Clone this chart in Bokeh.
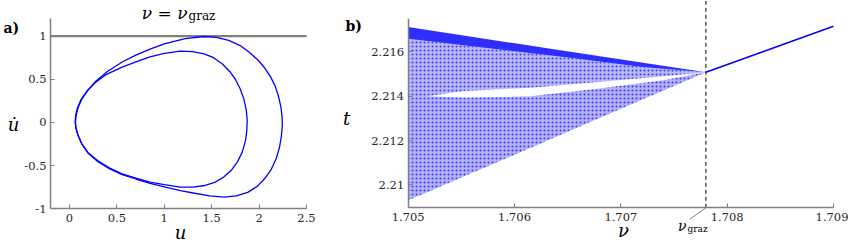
from bokeh.plotting import figure
from bokeh.layouts import row
from bokeh.models import Label, Arrow, FixedTicker, CustomJSTickFormatter, Range1d
from bokeh.embed import file_html
from bokeh.resources import INLINE

# ---------------- panel a) data: periodic orbit at nu = nu_graz ----------------
outer_u = [0.063, 0.07, 0.09, 0.13, 0.20, 0.28, 0.40, 0.556, 0.70, 0.85, 1.00, 1.22, 1.42, 1.55,
           1.68, 1.80, 1.90, 1.99, 2.06, 2.12, 2.17, 2.205, 2.23, 2.243, 2.245, 2.235, 2.215, 2.18,
           2.13, 2.06, 1.98, 1.88, 1.76, 1.63, 1.48, 1.32, 1.17, 1.00, 0.85, 0.70, 0.556, 0.42,
           0.30, 0.20, 0.13, 0.09, 0.07, 0.063]
outer_v = [0.00, 0.08, 0.17, 0.27, 0.38, 0.48, 0.59, 0.70, 0.78, 0.85, 0.91, 0.97, 0.995, 0.985,
           0.95, 0.89, 0.81, 0.72, 0.63, 0.53, 0.42, 0.30, 0.18, 0.06, -0.04, -0.16, -0.29, -0.42,
           -0.54, -0.65, -0.74, -0.81, -0.85, -0.865, -0.85, -0.82, -0.79, -0.745, -0.705, -0.655, -0.605, -0.535,
           -0.455, -0.36, -0.25, -0.15, -0.07, 0.00]
inner_u = [0.06, 0.065, 0.085, 0.12, 0.19, 0.27, 0.38, 0.556, 0.70, 0.85, 1.00, 1.17, 1.30, 1.42,
           1.52, 1.61, 1.69, 1.75, 1.80, 1.84, 1.865, 1.875, 1.87, 1.855, 1.82, 1.77, 1.71, 1.63,
           1.54, 1.43, 1.30, 1.17, 1.00, 0.85, 0.70, 0.556, 0.42, 0.30, 0.20, 0.13, 0.09, 0.068, 0.06]
inner_v = [0.00, 0.08, 0.17, 0.26, 0.37, 0.46, 0.55, 0.64, 0.70, 0.76, 0.80, 0.825, 0.82, 0.795,
           0.75, 0.68, 0.59, 0.50, 0.39, 0.27, 0.14, 0.02, -0.10, -0.22, -0.35, -0.46, -0.55, -0.63,
           -0.69, -0.73, -0.75, -0.75, -0.72, -0.69, -0.645, -0.595, -0.525, -0.445, -0.355, -0.245, -0.145, -0.065, 0.00]
graze_level = 1.0
a_xlim = (-0.2, 2.5)
a_ylim = (-1.0, 1.2)
a_xticks = [0, 0.5, 1, 1.5, 2, 2.5]
a_yticks = [-1, -0.5, 0, 0.5, 1]

# ---------------- panel b) data: bifurcation diagram ----------------
nu_graz = 1.7078
t_graz = 2.21508
# dense upper band of the chaotic attractor
band_nu = [1.705, 1.7064, 1.7078, 1.7072, 1.7065, 1.7058, 1.705]
band_t = [2.21713, 2.21610, 2.21508, 2.21532, 2.21575, 2.21615, 2.21660]
# sparser region between the band and the gap
upper_nu = [1.705, 1.7058, 1.7065, 1.7072, 1.7078, 1.7074, 1.70678, 1.70615, 1.70552, 1.70518, 1.705]
upper_t = [2.21660, 2.21615, 2.21575, 2.21532, 2.21508, 2.21490, 2.21464, 2.21439, 2.21424, 2.21400, 2.21392]
# lower region below the gap
lower_nu = [1.705, 1.70518, 1.70552, 1.70615, 1.70678, 1.7074, 1.7078, 1.7070, 1.7060, 1.7052, 1.705]
lower_t = [2.21392, 2.21400, 2.21394, 2.21400, 2.21434, 2.21472, 2.21508, 2.21343, 2.21136, 2.20971, 2.2093]
# periodic branch after grazing
branch_nu = [1.7078, 1.709]
branch_t = [2.21508, 2.21716]
b_xlim = (1.705, 1.709)
b_ylim = (2.20896, 2.2175)
b_xticks = [1.705, 1.706, 1.707, 1.708, 1.709]
b_yticks = [2.21, 2.212, 2.214, 2.216]

SERIF = "DejaVu Serif"
BLUE = "#0000FF"
AX = "#808080"
TXT = "#262626"
H = 243


def extend(lo, hi, px_lo, px_hi, px_before, px_after):
    """range so that lo..hi occupies pixels px_lo..px_hi of a frame"""
    scale = (hi - lo) / (px_hi - px_lo)
    return Range1d(lo - px_before * scale, hi + px_after * scale)


def style(p, xticks, yticks, xlim, ylim):
    p.outline_line_color = None
    p.xgrid.visible = False
    p.ygrid.visible = False
    p.background_fill_color = "white"
    p.border_fill_color = "white"
    p.xaxis.ticker = FixedTicker(ticks=xticks)
    p.yaxis.ticker = FixedTicker(ticks=yticks)
    p.xaxis[0].fixed_location = ylim[0]
    p.yaxis[0].fixed_location = xlim[0]
    p.xaxis[0].bounds = xlim
    p.yaxis[0].bounds = ylim
    for ax in (p.xaxis[0], p.yaxis[0]):
        ax.formatter = CustomJSTickFormatter(code="return tick.toString();")
        ax.axis_line_color = AX
        ax.axis_line_width = 1.5
        ax.major_tick_line_color = AX
        ax.major_tick_in = 4
        ax.major_tick_out = 0
        ax.minor_tick_line_color = None
        ax.major_label_text_font = SERIF
        ax.major_label_text_font_size = "11.5px"
        ax.major_label_text_color = TXT
    p.xaxis[0].major_label_standoff = 5
    p.yaxis[0].major_label_standoff = 4


def lab(p, x, y, text, size, style_="normal", align="center", base="middle"):
    p.add_layout(Label(x=x, y=y, x_units="screen", y_units="screen", text=text,
                       text_font=SERIF, text_font_size=size, text_font_style=style_,
                       text_align=align, text_baseline=base, text_color="black"))


# ---------------- figure a (page x 0..330) ----------------
p1 = figure(width=330, height=H,
            x_range=extend(*a_xlim, 50, 306, 50, 24),
            y_range=extend(*a_ylim, 0, 190, H - 208.3, 18.3),
            output_backend="svg", toolbar_location=None,
            min_border_left=0, min_border_right=0, min_border_top=0, min_border_bottom=0)
style(p1, a_xticks, a_yticks, a_xlim, a_ylim)
p1.segment(x0=[a_xlim[0]], y0=[graze_level], x1=[a_xlim[1]], y1=[graze_level],
           line_color="#7f7f7f", line_width=2.2)
p1.line(outer_u, outer_v, line_color=BLUE, line_width=1.3)
p1.line(inner_u, inner_v, line_color=BLUE, line_width=1.3)

lab(p1, 3, H - 27, "a)", "14px", "bold", align="left")
lab(p1, 13, H - 124, "u\u0307", "18px", "italic")
lab(p1, 180, H - 232, "u", "18px", "italic")
lab(p1, 187, H - 12, "\u03bd = \u03bd", "17px", "italic", align="right", base="alphabetic")
lab(p1, 188, H - 15, "graz", "12px", "normal", align="left", base="alphabetic")

# ---------------- figure b (page x 330..848) ----------------
p2 = figure(width=518, height=H,
            x_range=extend(*b_xlim, 0, 425.3, 77.7, 518 - 77.7 - 425.3),
            y_range=extend(*b_ylim, 0, 189, H - 207.3, 18.3),
            output_backend="svg", toolbar_location=None,
            min_border_left=0, min_border_right=0, min_border_top=0, min_border_bottom=0)
style(p2, b_xticks, b_yticks, b_xlim, b_ylim)

p2.patch(upper_nu, upper_t, fill_color=BLUE, fill_alpha=0.28, line_color=None,
         hatch_pattern=".", hatch_color=BLUE, hatch_alpha=0.7, hatch_scale=4, hatch_weight=1)
p2.patch(lower_nu, lower_t, fill_color=BLUE, fill_alpha=0.3, line_color=None,
         hatch_pattern=".", hatch_color=BLUE, hatch_alpha=0.7, hatch_scale=4, hatch_weight=1)
p2.patch(band_nu, band_t, fill_color=BLUE, fill_alpha=0.82, line_color=None)
p2.line(branch_nu, branch_t, line_color=BLUE, line_width=1.6)
p2.segment(x0=[nu_graz], y0=[b_ylim[0]], x1=[nu_graz], y1=[p2.y_range.end],
           line_color="black", line_width=1, line_dash="4 3")
p2.add_layout(Arrow(end=None, start=None, x_start=nu_graz, y_start=b_ylim[0], start_units="data",
                    x_end=359, y_end=H - 219, end_units="screen",
                    line_color="#808080", line_width=1))

lab(p2, 15, H - 25, "b)", "14px", "bold", align="left")
lab(p2, 16, H - 118, "t", "18px", "italic")
lab(p2, 293, H - 230, "\u03bd", "18px", "italic")
lab(p2, 356, H - 225, "\u03bd", "14px", "italic", align="right", base="alphabetic")
lab(p2, 357, H - 228, "graz", "9px", "normal", align="left", base="alphabetic")

layout = row(p1, p2)
open("out.html", "w").write(file_html(layout, INLINE))
